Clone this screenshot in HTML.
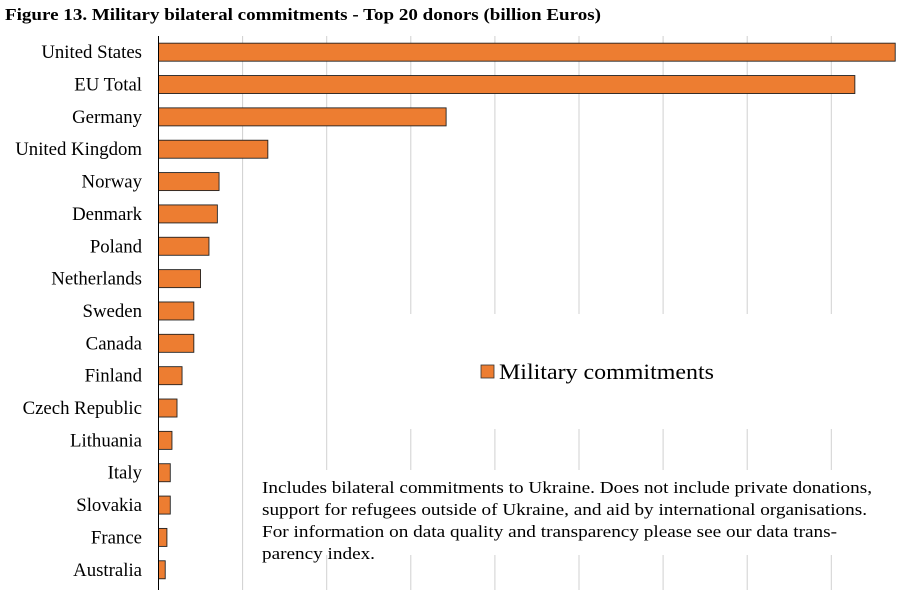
<!DOCTYPE html>
<html><head><meta charset="utf-8"><style>
html,body{margin:0;padding:0;background:#fff;}
svg{display:block;font-family:"Liberation Serif",serif;}
</style></head><body>
<svg id="chart" width="909" height="590" xmlns="http://www.w3.org/2000/svg">
<text x="5" y="20" font-size="17" font-weight="bold" fill="#000" textLength="596" lengthAdjust="spacingAndGlyphs">Figure 13. Military bilateral commitments - Top 20 donors (billion Euros)</text>
<g id="grid"></g>
<g id="bars"></g>
<g id="labels"></g>
<rect x="330" y="314" width="570" height="115" fill="#fff"/>
<g>
<rect x="481" y="365" width="13" height="13" fill="#ED7D31" stroke="#333" stroke-width="0.8"/>
<text x="499" y="379" font-size="22" fill="#000" textLength="215" lengthAdjust="spacingAndGlyphs">Military commitments</text>
</g>
<rect x="250" y="470" width="650" height="85" fill="#fff"/>
<g font-size="17" fill="#000">
<text x="262" y="493" textLength="610" lengthAdjust="spacingAndGlyphs">Includes bilateral commitments to Ukraine. Does not include private donations,</text>
<text x="262" y="515" textLength="605" lengthAdjust="spacingAndGlyphs">support for refugees outside of Ukraine, and aid by international organisations.</text>
<text x="262" y="537" textLength="575" lengthAdjust="spacingAndGlyphs">For information on data quality and transparency please see our data trans-</text>
<text x="262" y="559" textLength="113" lengthAdjust="spacingAndGlyphs">parency index.</text>
</g>
</svg>
<script>
const categories=["United States","EU Total","Germany","United Kingdom","Norway","Denmark","Poland","Netherlands","Sweden","Canada","Finland","Czech Republic","Lithuania","Italy","Slovakia","France","Australia"];
const values=[43.8,41.4,17.1,6.5,3.6,3.5,3.0,2.5,2.1,2.1,1.4,1.1,0.8,0.7,0.7,0.5,0.4];
const gridTicks=[5,10,15,20,25,30,35,40];
const NS="http://www.w3.org/2000/svg";
const x0=158.5, pxPerUnit=16.82, plotTop=36, band=32.35;
function xs(v){return x0+v*pxPerUnit;}
function yc(i){return plotTop+band*i+band/2;}
const grid=document.getElementById('grid');
gridTicks.forEach(t=>{
 const l=document.createElementNS(NS,'line');
 l.setAttribute('x1',xs(t));l.setAttribute('x2',xs(t));l.setAttribute('y1',plotTop);l.setAttribute('y2',590);
 l.setAttribute('stroke','#d0d0d0');l.setAttribute('stroke-width','1');
 
 
 grid.appendChild(l);
});
const bars=document.getElementById('bars'), labels=document.getElementById('labels');
categories.forEach((c,i)=>{
 const r=document.createElementNS(NS,'rect');
 r.setAttribute('x',x0);r.setAttribute('y',yc(i)-9);r.setAttribute('width',xs(values[i])-x0);r.setAttribute('height',18);
 r.setAttribute('fill','#ED7D31');r.setAttribute('stroke','#222');r.setAttribute('stroke-width','0.9');
 
 
 bars.appendChild(r);
 const t=document.createElementNS(NS,'text');
 t.setAttribute('x',142);t.setAttribute('y',yc(i)+6);t.setAttribute('text-anchor','end');t.setAttribute('font-size','18.8');
 t.textContent=c;
 
 
 labels.appendChild(t);
});
const ax=document.createElementNS(NS,'line');
ax.setAttribute('x1',x0);ax.setAttribute('x2',x0);ax.setAttribute('y1',plotTop);ax.setAttribute('y2',590);
ax.setAttribute('stroke','#000');ax.setAttribute('stroke-width','1');


labels.appendChild(ax);
</script>
</body></html>
